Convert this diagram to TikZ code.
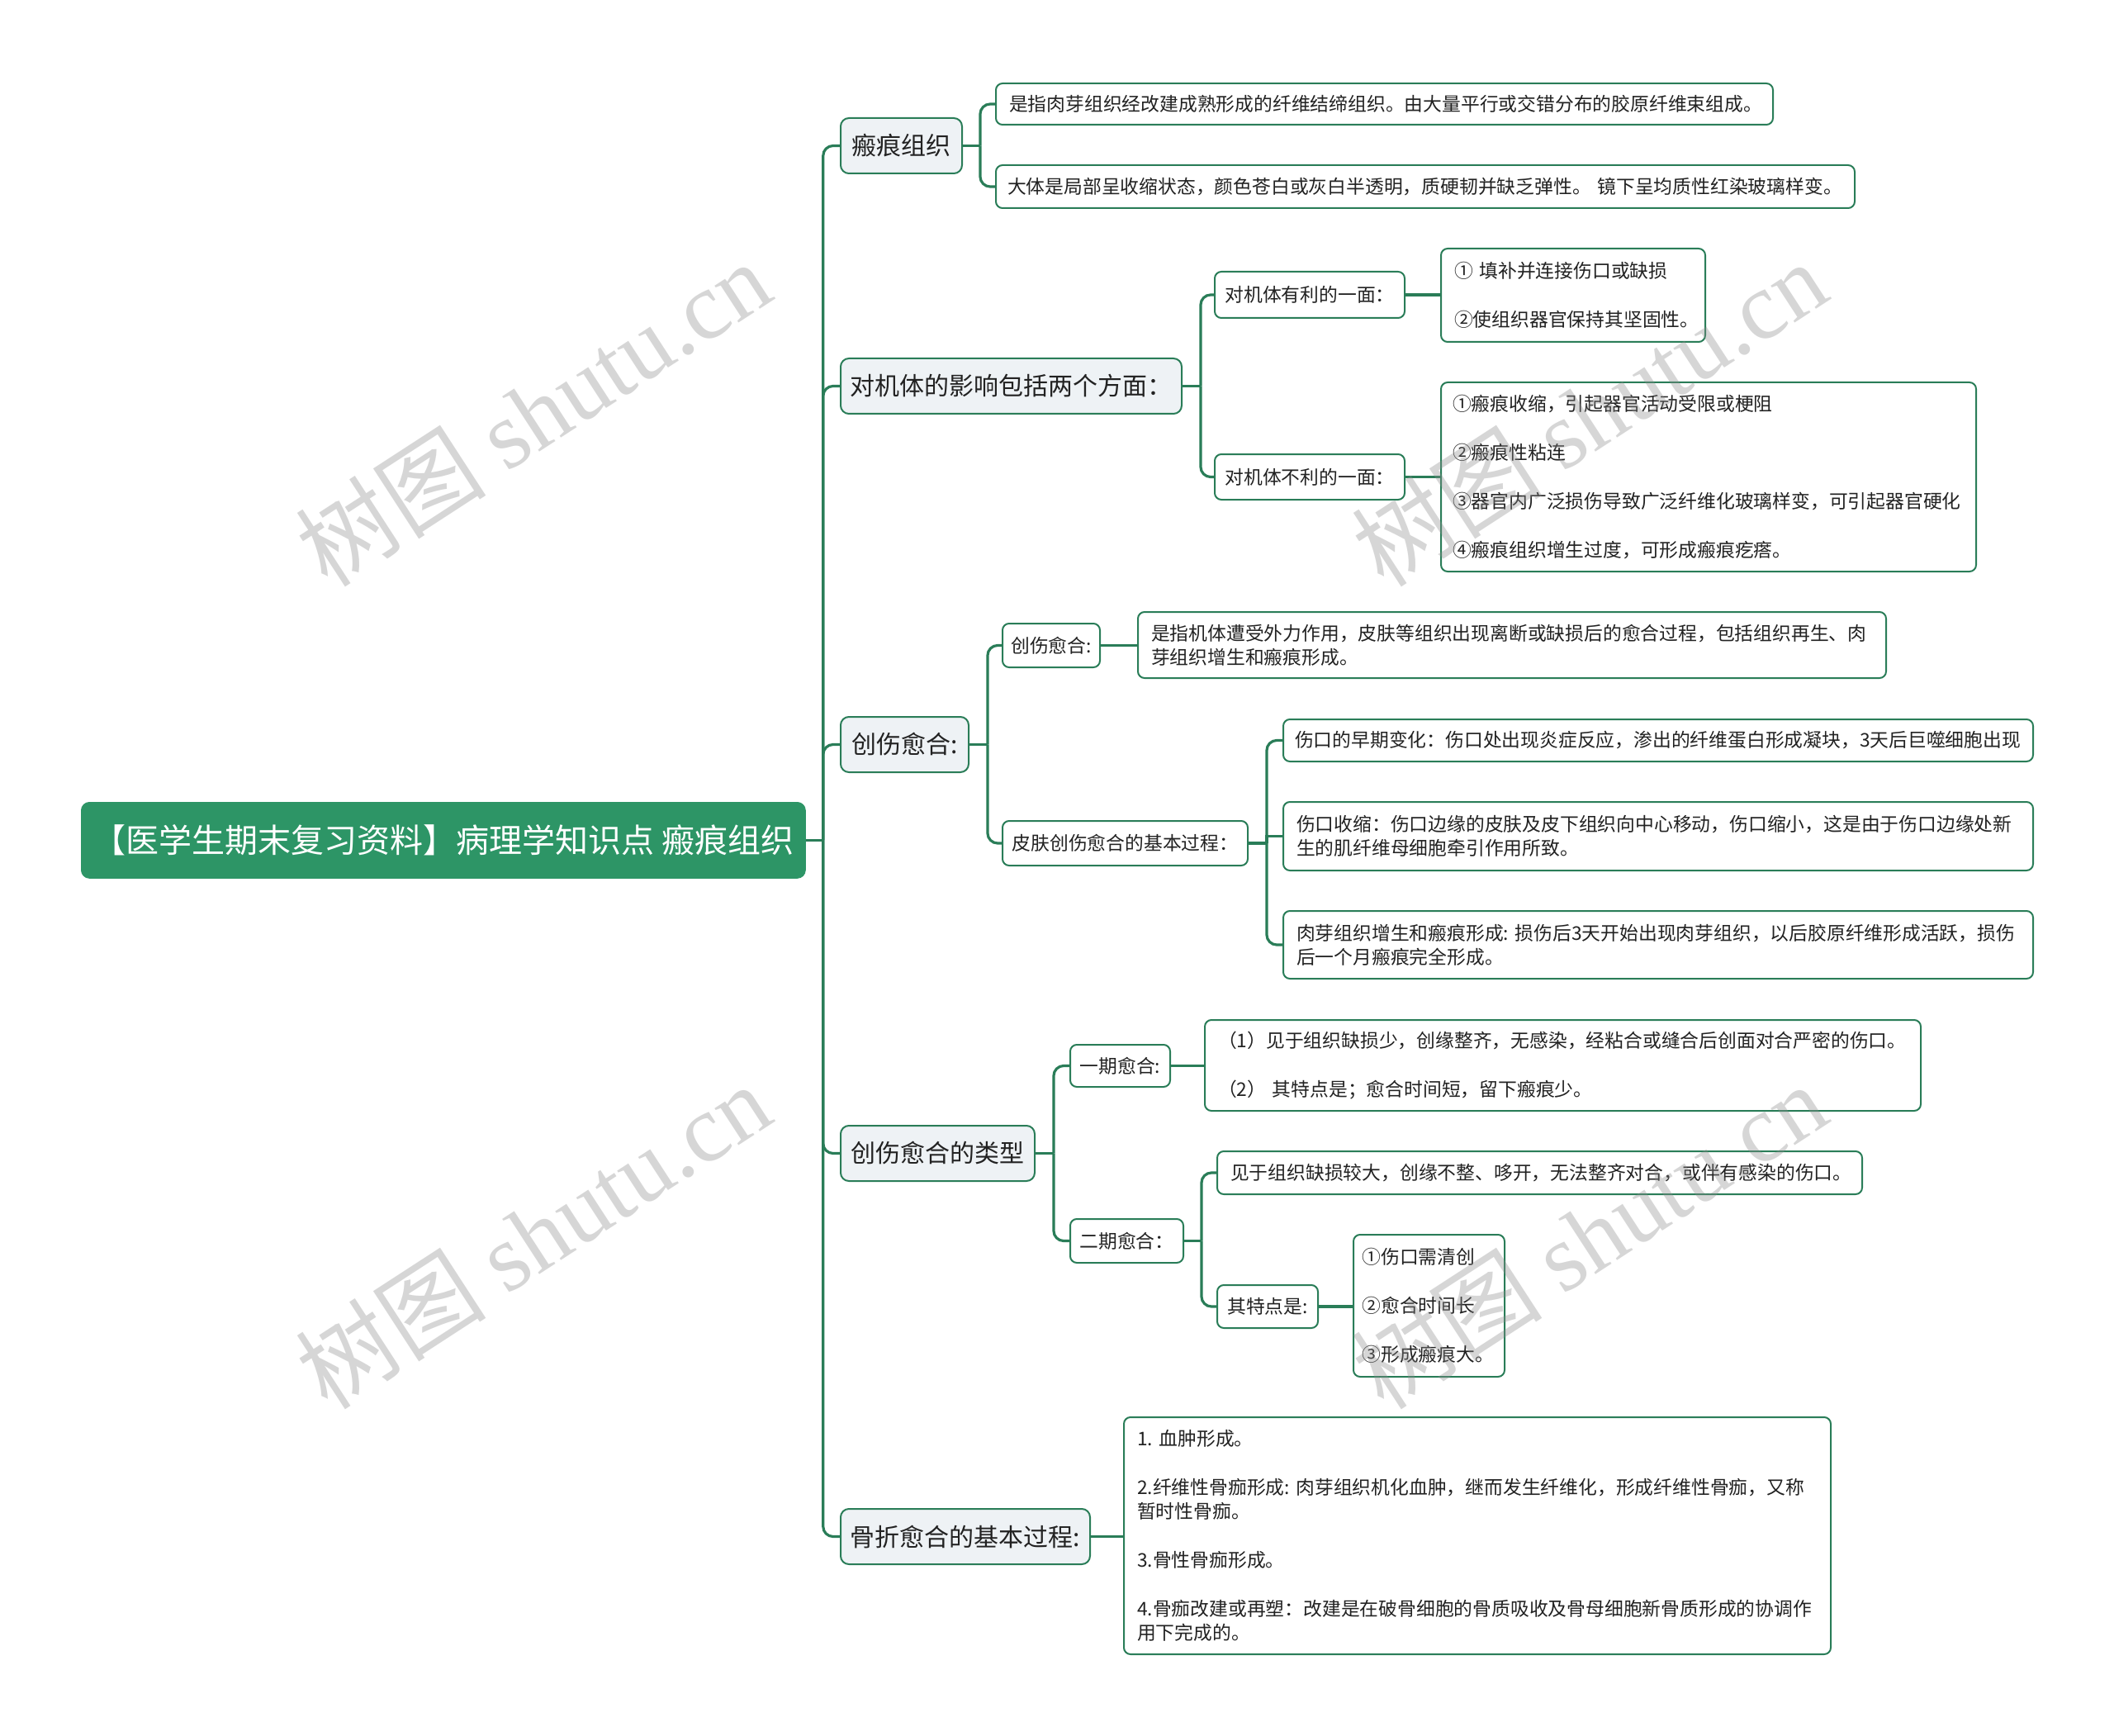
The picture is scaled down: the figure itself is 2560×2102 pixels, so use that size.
\documentclass[tikz,border=0pt]{standalone}
\usepackage{fontspec}
\setmainfont{Noto Sans CJK SC}
\newfontfamily\wmlatin{Liberation Serif}
\setlength{\parindent}{0pt}
\definecolor{rootgreen}{HTML}{2D9566}
\definecolor{linegreen}{HTML}{2A7D58}
\definecolor{lvlfill}{HTML}{EEF2F5}
\definecolor{txt}{HTML}{222222}
\begin{document}
\begin{tikzpicture}[x=0.5pt, y=-0.5pt,
  conn/.style={draw=linegreen, line width=1.6pt, rounded corners=6pt},
  rootbox/.style={fill=rootgreen, draw=rootgreen, rounded corners=5pt, text=white, font=\fontsize{20}{24}\selectfont, inner sep=0pt, anchor=north west},
  topic/.style={fill=lvlfill, draw=linegreen, line width=1pt, rounded corners=5pt, text=txt, font=\fontsize{15}{18}\selectfont, inner sep=0pt, anchor=north west},
  subbox/.style={fill=white, draw=linegreen, line width=1pt, rounded corners=4pt, text=txt, font=\fontsize{11.4}{14.5}\selectfont, inner sep=0pt, anchor=north west},
  leaf/.style={subbox, align=left},
  wm/.style={text=black!45, opacity=0.35, font=\fontsize{58}{62}\selectfont, rotate=33}
]
\path[use as bounding box, fill=white] (0,0) rectangle (2560,2102);

% root
\node[rootbox, minimum width=438.5pt, minimum height=46pt] (root) at (98,971) {【医学生期末复习资料】病理学知识点 瘢痕组织};

% level 1
\node[topic, minimum width=73.5pt, minimum height=33.5pt] (n1) at (1017,142) {瘢痕组织};
\node[topic, minimum width=206.5pt, minimum height=33.5pt] (n2) at (1017,433) {对机体的影响包括两个方面：};
\node[topic, minimum width=77.5pt, minimum height=33.5pt] (n3) at (1017,867) {创伤愈合:};
\node[topic, minimum width=117.5pt, minimum height=33.5pt] (n4) at (1017,1362) {创伤愈合的类型};
\node[topic, minimum width=151pt, minimum height=33.5pt] (n5) at (1017,1826) {骨折愈合的基本过程:};

% level 2
\node[subbox, minimum width=115pt, minimum height=28pt] (B1) at (1470,328) {对机体有利的一面：};
\node[subbox, minimum width=115pt, minimum height=27.5pt] (B2) at (1470,549) {对机体不利的一面：};
\node[subbox, minimum width=59pt, minimum height=26.5pt] (C1) at (1213,754) {创伤愈合:};
\node[subbox, minimum width=148.5pt, minimum height=27pt] (C2) at (1213,993) {皮肤创伤愈合的基本过程：};
\node[subbox, minimum width=60.5pt, minimum height=25.5pt] (D1) at (1295,1264) {一期愈合:};
\node[subbox, minimum width=68.5pt, minimum height=26.5pt] (D2) at (1295,1475) {二期愈合：};
\node[subbox, minimum width=61pt, minimum height=26pt] (D3) at (1473,1555) {其特点是:};

% leaves
\node[leaf, minimum width=470.5pt, minimum height=25pt, text width=454.5pt] (A1) at (1205,100) {是指肉芽组织经改建成熟形成的纤维结缔组织。由大量平行或交错分布的胶原纤维束组成。};
\node[leaf, minimum width=520pt, minimum height=26pt, text width=506pt] (A2) at (1205,199) {大体是局部呈收缩状态，颜色苍白或灰白半透明，质硬韧并缺乏弹性。~镜下呈均质性红染玻璃样变。};
\node[leaf, minimum width=160pt, minimum height=56.5pt, text width=144pt] (BL1) at (1744,300) {① 填补并连接伤口或缺损\\[15pt]②使组织器官保持其坚固性。};
\node[leaf, minimum width=324pt, minimum height=114.5pt, text width=310pt] (BL2) at (1744,462) {①瘢痕收缩，引起器官活动受限或梗阻\\[15pt]②瘢痕性粘连\\[15pt]③器官内广泛损伤导致广泛纤维化玻璃样变，可引起器官硬化\\[15pt]④瘢痕组织增生过度，可形成瘢痕疙瘩。};
\node[leaf, minimum width=453pt, minimum height=40pt, text width=437pt] (CL1) at (1377,740) {是指机体遭受外力作用，皮肤等组织出现离断或缺损后的愈合过程，包括组织再生、肉\\芽组织增生和瘢痕形成。};
\node[leaf, minimum width=454pt, minimum height=25.5pt, text width=440pt] (CL2a) at (1553,870) {伤口的早期变化：伤口处出现炎症反应，渗出的纤维蛋白形成凝块，3天后巨噬细胞出现};
\node[leaf, minimum width=454pt, minimum height=41.5pt, text width=438pt] (CL2b) at (1553,970) {伤口收缩：伤口边缘的皮肤及皮下组织向中心移动，伤口缩小，这是由于伤口边缘处新\\生的肌纤维母细胞牵引作用所致。};
\node[leaf, minimum width=454pt, minimum height=41pt, text width=438pt] (CL2c) at (1553,1102) {肉芽组织增生和瘢痕形成:~损伤后3天开始出现肉芽组织，以后胶原纤维形成活跃，损伤\\后一个月瘢痕完全形成。};
\node[leaf, minimum width=433.5pt, minimum height=55pt, text width=417.5pt] (DL1) at (1458,1234) {（1）见于组织缺损少，创缘整齐，无感染，经粘合或缝合后创面对合严密的伤口。\\[15pt]（2）~其特点是；愈合时间短，留下瘢痕少。};
\node[leaf, minimum width=390.5pt, minimum height=26pt, text width=374.5pt] (DL2a) at (1473,1393) {见于组织缺损较大，创缘不整、哆开，无法整齐对合，或伴有感染的伤口。};
\node[leaf, minimum width=91.5pt, minimum height=86pt, text width=81pt] (DL3) at (1638,1494) {①伤口需清创\\[15pt]②愈合时间长\\[15pt]③形成瘢痕大。};
\node[leaf, minimum width=428pt, minimum height=143.5pt, text width=412pt] (EL) at (1360,1715) {1.~血肿形成。\\[15pt]2.纤维性骨痂形成:~肉芽组织机化血肿，继而发生纤维化，形成纤维性骨痂，又称\\暂时性骨痂。\\[15pt]3.骨性骨痂形成。\\[15pt]4.骨痂改建或再塑：改建是在破骨细胞的骨质吸收及骨母细胞新骨质形成的协调作\\用下完成的。};

% connectors
\draw[conn] (root.east) -- ++(21,0) coordinate (j0);
\foreach \n in {n1,n2,n3,n4,n5} \draw[conn] (j0) |- (\n.west);

\draw[conn] (n1.east) -- ++(21,0) coordinate (j1);
\draw[conn] (j1) |- (A1.west);
\draw[conn] (j1) |- (A2.west);

\draw[conn] (n2.east) -- ++(22,0) coordinate (j2);
\draw[conn] (j2) |- (B1.west);
\draw[conn] (j2) |- (B2.west);
\draw[conn] (B1.east) -- (B1.east -| BL1.west);
\draw[conn] (B2.east) -- (B2.east -| BL2.west);

\draw[conn] (n3.east) -- ++(22,0) coordinate (j3);
\draw[conn] (j3) |- (C1.west);
\draw[conn] (j3) |- (C2.west);
\draw[conn] (C1.east) -- (C1.east -| CL1.west);
\draw[conn] (C2.east) -- ++(22,0) coordinate (j4);
\draw[conn] (j4) |- (CL2a.west);
\draw[conn, sharp corners] (j4) |- (CL2b.west);
\draw[conn] (j4) |- (CL2c.west);

\draw[conn] (n4.east) -- ++(22,0) coordinate (j5);
\draw[conn] (j5) |- (D1.west);
\draw[conn] (j5) |- (D2.west);
\draw[conn] (D1.east) -- (D1.east -| DL1.west);
\draw[conn] (D2.east) -- ++(21,0) coordinate (j6);
\draw[conn] (j6) |- (DL2a.west);
\draw[conn] (j6) |- (D3.west);
\draw[conn] (D3.east) -- (D3.east -| DL3.west);

\draw[conn] (n5.east) -- (n5.east -| EL.west);

% watermarks
\node[wm] (wm1) at (645,500) {树图 {\wmlatin shutu.cn}};
\node[wm] (wm2) at (1924,500) {树图 {\wmlatin shutu.cn}};
\node[wm] (wm3) at (645,1496) {树图 {\wmlatin shutu.cn}};
\node[wm] (wm4) at (1924,1496) {树图 {\wmlatin shutu.cn}};
\end{tikzpicture}
\end{document}
